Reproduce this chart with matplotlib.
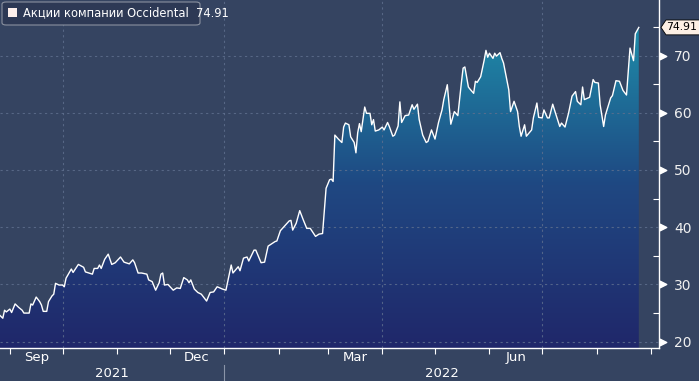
import matplotlib
matplotlib.use("Agg")
import matplotlib.pyplot as plt
import matplotlib.dates as mdates
import matplotlib.transforms as mtransforms
from matplotlib.colors import LinearSegmentedColormap
from matplotlib.patches import Polygon, FancyBboxPatch, Rectangle
import numpy as np
import pandas as pd

# Occidental share price
dates = [
    "2021-08-26", "2021-08-28", "2021-08-29", "2021-08-30", "2021-09-01", "2021-09-02",
    "2021-09-04", "2021-09-06", "2021-09-08", "2021-09-09", "2021-09-12", "2021-09-13",
    "2021-09-14", "2021-09-16", "2021-09-18", "2021-09-19", "2021-09-20", "2021-09-22",
    "2021-09-23", "2021-09-25", "2021-09-26", "2021-09-27", "2021-09-29", "2021-10-01",
    "2021-10-02", "2021-10-03", "2021-10-06", "2021-10-07", "2021-10-10", "2021-10-13",
    "2021-10-14", "2021-10-18", "2021-10-19", "2021-10-21", "2021-10-22", "2021-10-23",
    "2021-10-25", "2021-10-27", "2021-10-29", "2021-10-31", "2021-11-03", "2021-11-05",
    "2021-11-08", "2021-11-10", "2021-11-11", "2021-11-13", "2021-11-15", "2021-11-18",
    "2021-11-19", "2021-11-21", "2021-11-23", "2021-11-25", "2021-11-26", "2021-11-27",
    "2021-11-28", "2021-11-30", "2021-12-03", "2021-12-05", "2021-12-07", "2021-12-09",
    "2021-12-11", "2021-12-12", "2021-12-13", "2021-12-15", "2021-12-17", "2021-12-19",
    "2021-12-22", "2021-12-24", "2021-12-26", "2021-12-28", "2021-12-31", "2022-01-02",
    "2022-01-05", "2022-01-06", "2022-01-09", "2022-01-10", "2022-01-12", "2022-01-14",
    "2022-01-15", "2022-01-18", "2022-01-19", "2022-01-22", "2022-01-24", "2022-01-26",
    "2022-01-30", "2022-01-31", "2022-02-02", "2022-02-07", "2022-02-08", "2022-02-09",
    "2022-02-11", "2022-02-13", "2022-02-15", "2022-02-17", "2022-02-19", "2022-02-22",
    "2022-02-24", "2022-02-26", "2022-02-28", "2022-03-02", "2022-03-03", "2022-03-04",
    "2022-03-05", "2022-03-07", "2022-03-09", "2022-03-10", "2022-03-11", "2022-03-13",
    "2022-03-14", "2022-03-16", "2022-03-17", "2022-03-18", "2022-03-19", "2022-03-20",
    "2022-03-22", "2022-03-23", "2022-03-25", "2022-03-26", "2022-03-27", "2022-03-28",
    "2022-03-30", "2022-04-01", "2022-04-02", "2022-04-04", "2022-04-05", "2022-04-07",
    "2022-04-08", "2022-04-10", "2022-04-11", "2022-04-12", "2022-04-14", "2022-04-16",
    "2022-04-18", "2022-04-19", "2022-04-21", "2022-04-22", "2022-04-24", "2022-04-26",
    "2022-04-27", "2022-04-29", "2022-05-01", "2022-05-03", "2022-05-05", "2022-05-06",
    "2022-05-08", "2022-05-10", "2022-05-12", "2022-05-14", "2022-05-16", "2022-05-17",
    "2022-05-18", "2022-05-20", "2022-05-21", "2022-05-23", "2022-05-24", "2022-05-25",
    "2022-05-27", "2022-05-29", "2022-05-30", "2022-05-31", "2022-06-01", "2022-06-03",
    "2022-06-04", "2022-06-05", "2022-06-07", "2022-06-08", "2022-06-09", "2022-06-11",
    "2022-06-12", "2022-06-13", "2022-06-15", "2022-06-17", "2022-06-18", "2022-06-19",
    "2022-06-21", "2022-06-22", "2022-06-25", "2022-06-26", "2022-06-28", "2022-06-29",
    "2022-07-01", "2022-07-02", "2022-07-04", "2022-07-05", "2022-07-07", "2022-07-08",
    "2022-07-11", "2022-07-12", "2022-07-14", "2022-07-16", "2022-07-18", "2022-07-20",
    "2022-07-21", "2022-07-23", "2022-07-24", "2022-07-25", "2022-07-28", "2022-07-30",
    "2022-07-31", "2022-08-02", "2022-08-03", "2022-08-05", "2022-08-06", "2022-08-09",
    "2022-08-10", "2022-08-12", "2022-08-14", "2022-08-16", "2022-08-18", "2022-08-20",
    "2022-08-22", "2022-08-23", "2022-08-25",
]
prices = [
    24.7, 24.1, 25.5, 25.2, 25.7, 25.1, 26.6, 26.0, 25.5, 25.0, 25.0, 26.6,
    26.4, 27.8, 27.0, 26.4, 25.3, 25.3, 27.0, 28.0, 28.3, 30.2, 29.9, 29.9,
    29.6, 31.1, 32.7, 32.1, 33.5, 33.0, 32.2, 31.8, 32.8, 32.8, 33.4, 32.8,
    34.4, 35.3, 33.5, 33.8, 34.8, 33.9, 33.6, 34.3, 33.8, 32.0, 32.0, 31.8,
    30.8, 30.5, 29.0, 30.3, 31.8, 32.0, 29.9, 30.0, 29.0, 29.4, 29.3, 31.2,
    30.8, 30.3, 30.8, 29.2, 28.6, 28.3, 27.1, 28.6, 28.7, 29.6, 29.2, 29.0,
    33.4, 32.0, 33.1, 32.4, 34.6, 34.8, 34.1, 36.0, 36.0, 33.8, 33.9, 36.7,
    37.5, 37.6, 39.4, 41.1, 41.2, 39.5, 40.7, 42.9, 41.3, 39.8, 39.8, 38.4,
    38.8, 38.9, 46.8, 48.3, 48.4, 48.0, 56.1, 55.4, 54.8, 57.5, 58.2, 57.9,
    55.8, 54.8, 53.0, 56.5, 58.1, 56.7, 61.0, 59.9, 59.9, 57.9, 58.8, 56.8,
    57.0, 57.5, 57.0, 58.3, 57.6, 55.9, 56.1, 57.7, 61.9, 58.3, 59.5, 59.6,
    61.4, 60.6, 61.5, 58.8, 56.1, 54.8, 55.0, 57.0, 55.4, 58.3, 60.5, 62.3,
    64.9, 58.0, 60.2, 59.5, 65.2, 67.8, 68.0, 64.5, 64.1, 63.4, 65.5, 65.3,
    66.3, 69.2, 70.9, 69.7, 70.4, 69.5, 70.4, 69.9, 70.5, 69.5, 68.7, 65.5,
    64.0, 60.2, 62.0, 60.2, 57.6, 55.9, 57.9, 55.9, 57.0, 59.1, 61.7, 59.2,
    59.1, 60.5, 59.1, 59.1, 61.5, 60.5, 57.6, 58.2, 57.5, 59.9, 62.9, 63.7,
    62.0, 61.4, 64.5, 62.3, 62.7, 65.8, 65.3, 65.2, 61.4, 57.6, 59.6, 62.6,
    63.0, 65.6, 65.5, 63.9, 63.1, 71.3, 69.1, 73.8, 74.91,
]
label_months = ["2021-09", "2021-12", "2022-03", "2022-06"]
month_names = ["Sep", "Dec", "Mar", "Jun"]
years = ["2021", "2022"]
legend_label = "Акции компании Occidental"

BG = "#354461"
GRID = "#60708f"
plt.rcParams["font.family"] = ["DejaVu Sans"]

fig = plt.figure(figsize=(6.99, 3.81), dpi=100)
fig.patch.set_facecolor(BG)
ax = fig.add_axes([0, 33 / 381, 659 / 699, 348 / 381])
ax.set_facecolor(BG)

x = mdates.date2num(pd.to_datetime(dates))
y = np.array(prices)
sep1 = mdates.date2num(pd.Timestamp("2021-09-01"))
xmin, xmax = sep1 - 5.6, sep1 + 369.5
ymin, ymax = 18.9, 79.7

# gradient area under the line
cmap = LinearSegmentedColormap.from_list("oxy", ["#20276a", "#1f4882", "#1e8fab"])
grad = np.linspace(0, 1, 256).reshape(-1, 1)
im = ax.imshow(grad, extent=[xmin, xmax, ymin, 76], origin="lower",
               aspect="auto", cmap=cmap, zorder=1)
verts = np.column_stack([np.r_[x[0], x, x[-1]], np.r_[ymin, y, ymin]])
clip = Polygon(verts, closed=True, transform=ax.transData,
               facecolor="none", edgecolor="none")
ax.add_patch(clip)
im.set_clip_path(clip)
ax.plot(x, y, color="white", lw=1.0, zorder=4)

ax.set_xlim(xmin, xmax)
ax.set_ylim(ymin, ymax)

# grid
for v in range(20, 80, 10):
    ax.axhline(v, color=GRID, lw=0.8, ls=(0, (2, 3)), alpha=0.8, zorder=2)
for q in pd.date_range("2021-10-01", "2022-07-01", freq="QS"):
    ax.axvline(mdates.date2num(q), color=GRID, lw=0.8, ls=(0, (2, 3)),
               alpha=0.8, zorder=2)

for s in ["left", "top"]:
    ax.spines[s].set_visible(False)
for s in ["right", "bottom"]:
    ax.spines[s].set_color("white")
    ax.spines[s].set_linewidth(1.0)
    ax.spines[s].set_zorder(5)

# y axis on the right
ax.yaxis.tick_right()
ax.set_yticks(range(20, 80, 10))
ax.set_yticks(range(25, 80, 10), minor=True)
ax.tick_params(axis="y", which="major", length=0, pad=11,
               labelcolor="#f0f0f0", labelsize=10)
ax.tick_params(axis="y", which="minor", direction="in", length=4,
               color="white", width=0.8)
ytr = mtransforms.blended_transform_factory(ax.transAxes, ax.transData)
ax.scatter([1.0 + 4 / 659] * 6, list(range(20, 80, 10)), marker=">", s=22,
           color="white", transform=ytr, clip_on=False, zorder=6)

# x axis: monthly ticks, centred month labels, year row
ax.set_xticks(mdates.date2num(pd.date_range("2021-09-01", "2022-09-01", freq="MS")))
ax.set_xticklabels([])
ax.tick_params(axis="x", direction="out", length=4, color="white", width=0.8)
xtr = mtransforms.blended_transform_factory(ax.transData, ax.transAxes)
for m, name in zip(label_months, month_names):
    start = pd.Timestamp(m + "-01")
    mid = (mdates.date2num(start) + mdates.date2num(start + pd.offsets.MonthBegin(1))) / 2
    ax.text(mid, -0.027, name, transform=xtr, ha="center", va="center",
            color="white", fontsize=9.5)
jan1 = mdates.date2num(pd.Timestamp("2022-01-01"))
ax.text((xmin + jan1) / 2, -0.074, years[0], transform=xtr, ha="center",
        va="center", color="white", fontsize=9.5)
ax.text((jan1 + xmax) / 2, -0.074, years[1], transform=xtr, ha="center",
        va="center", color="white", fontsize=9.5)
ax.plot([jan1, jan1], [-0.05, -0.1], transform=xtr, color="#8a94a8",
        lw=0.8, clip_on=False)

# last value tag on the right axis
last = prices[-1]
tag = Polygon([(1 + 2 / 659, last), (1 + 7 / 659, last + 1.3),
               (1 + 45 / 659, last + 1.3), (1 + 45 / 659, last - 1.3),
               (1 + 7 / 659, last - 1.3)], closed=True, transform=ytr,
              facecolor="#fdf0e4", edgecolor="black", lw=0.6, clip_on=False,
              zorder=7)
ax.add_patch(tag)
ax.text(1 + 7.5 / 659, last, f"{last:.2f}", transform=ytr, ha="left",
        va="center", color="black", fontsize=7.8, zorder=8)

# legend box top-left
box = FancyBboxPatch((2 / 699, 1 - 25 / 381), 198 / 699, 23 / 381,
                     boxstyle="round,pad=0,rounding_size=0.006",
                     transform=fig.transFigure, facecolor="#2d3955",
                     edgecolor="#8a919f", lw=0.8, zorder=10)
fig.patches.append(box)
fig.patches.append(Rectangle((8 / 699, 1 - 17 / 381), 9 / 699, 9 / 381,
                             transform=fig.transFigure, facecolor="#fdf0ec",
                             edgecolor="none", zorder=11))
fig.text(23 / 699, 1 - 13 / 381, f"{legend_label}  {last:.2f}", color="white",
         fontsize=8.3, ha="left", va="center", zorder=12)

fig.savefig("out.png", dpi=100, facecolor=BG)
